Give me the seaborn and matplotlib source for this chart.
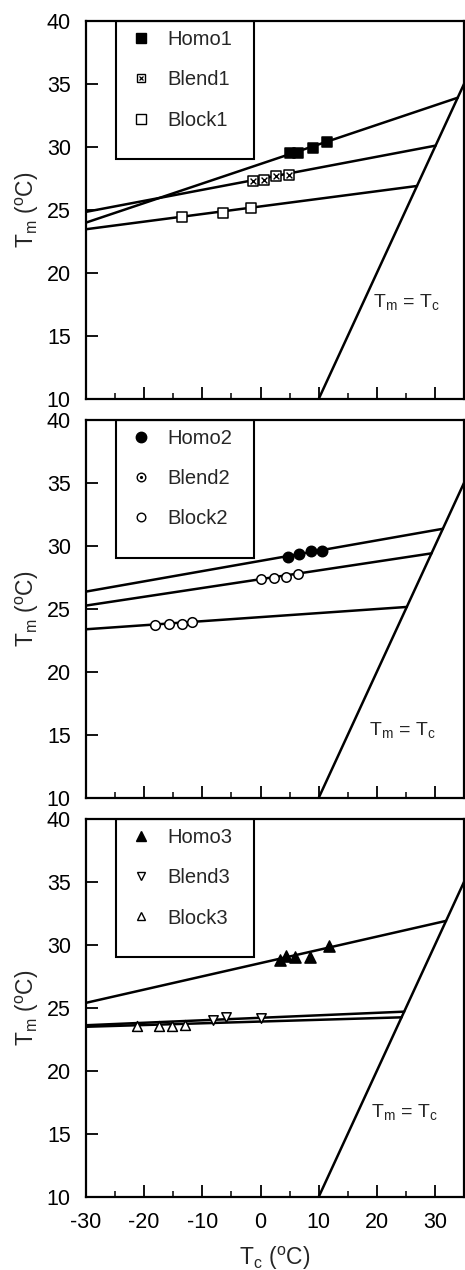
import numpy as np
import matplotlib
matplotlib.use("Agg")
import matplotlib.pyplot as plt
import seaborn as sns
from matplotlib.lines import Line2D
from matplotlib.patches import Rectangle
from matplotlib.ticker import MultipleLocator

sns.set_style("ticks")
plt.rcParams["font.family"] = ["Liberation Sans", "DejaVu Sans"]
plt.rcParams["mathtext.fontset"] = "custom"
plt.rcParams["mathtext.rm"] = "Liberation Sans"
plt.rcParams["mathtext.it"] = "Liberation Sans"
plt.rcParams["mathtext.default"] = "regular"
plt.rcParams["axes.unicode_minus"] = False

# ---- measured crystallisation (Tc) / melting (Tm) temperatures, degC ----
homo1_tc = [5.0, 6.4, 9.0, 11.5]
homo1_tm = [29.5, 29.5, 29.95, 30.4]
blend1_tc = [-1.3, 0.65, 2.7, 4.9]
blend1_tm = [27.3, 27.4, 27.7, 27.8]
block1_tc = [-13.5, -6.5, -1.6]
block1_tm = [24.45, 24.75, 25.15]

homo2_tc = [4.65, 6.6, 8.6, 10.5]
homo2_tm = [29.15, 29.35, 29.6, 29.6]
blend2_tc = [0.15, 2.3, 4.3, 6.4]
blend2_tm = [27.35, 27.45, 27.5, 27.8]
block2_tc = [-18.15, -15.75, -13.5, -11.8]
block2_tm = [23.75, 23.8, 23.8, 23.95]

homo3_tc = [3.4, 4.4, 5.9, 8.5, 11.8]
homo3_tm = [28.8, 29.1, 29.0, 29.0, 29.9]
blend3_tc = [-8.2, -6.0, 0.0]
blend3_tm = [24.0, 24.25, 24.2]
block3_tc = [-21.2, -17.5, -15.3, -13.0]
block3_tm = [23.6, 23.6, 23.6, 23.65]

# ---- Hoffman-Weeks extrapolation: equilibrium Tm0 and slope phi ----
series_names = [["Homo1", "Blend1", "Block1"],
                ["Homo2", "Blend2", "Block2"],
                ["Homo3", "Blend3", "Block3"]]
tm0 = [[33.9, 30.1, 26.9],
       [31.35, 29.4, 25.15],
       [31.9, 24.7, 24.25]]
phi = [[0.155, 0.0874, 0.0603],
       [0.0812, 0.0697, 0.0321],
       [0.105, 0.0197, 0.0138]]

tc_start = -30.0
identity_tc = [10.0, 35.0]

panel_points = [
    [(homo1_tc, homo1_tm), (blend1_tc, blend1_tm), (block1_tc, block1_tm)],
    [(homo2_tc, homo2_tm), (blend2_tc, blend2_tm), (block2_tc, block2_tm)],
    [(homo3_tc, homo3_tm), (blend3_tc, blend3_tm), (block3_tc, block3_tm)],
]

# marker styles: (marker, size, face, overlay marker, overlay size)
styles = [
    [("s", 52, "black", None, 0), ("s", 42, "white", "x", 18), ("s", 52, "white", None, 0)],
    [("o", 56, "black", None, 0), ("o", 46, "white", ".", 7), ("o", 48, "white", None, 0)],
    [("^", 64, "black", None, 0), ("v", 46, "white", None, 0), ("^", 50, "white", None, 0)],
]
legend_ms = [[7.0, 6.0, 6.5], [7.5, 6.2, 6.2], [7.5, 6.2, 6.2]]

label_pos = [(19.4, 17.3), (18.7, 15.0), (19.0, 16.35)]

fig = plt.figure(figsize=(4.65, 12.7), dpi=100)
bottoms = [0.6858, 0.3717, 0.0575]
axes = [fig.add_axes([0.185, b, 0.813, 0.2978]) for b in bottoms]

for i, ax in enumerate(axes):
    # extrapolated lines up to the Tm = Tc line
    for j in range(3):
        t0, p = tm0[i][j], phi[i][j]
        xs = np.array([tc_start, t0])
        ys = t0 + p * (xs - t0)
        sns.lineplot(x=xs, y=ys, color="black", linewidth=1.8, ax=ax,
                     legend=False, zorder=2)
    sns.lineplot(x=identity_tc, y=identity_tc, color="black", linewidth=1.8,
                 ax=ax, legend=False, zorder=2)

    handles = []
    for j in range(3):
        xs, ys = panel_points[i][j]
        mk, s, face, ov, ovs = styles[i][j]
        sns.scatterplot(x=xs, y=ys, marker=mk, s=s, color=face,
                        edgecolor="black", linewidth=1.1, ax=ax,
                        legend=False, zorder=3)
        ms = legend_ms[i][j]
        h = Line2D([], [], linestyle="none", marker=mk, markersize=ms,
                   markerfacecolor=face, markeredgecolor="black",
                   markeredgewidth=1.0)
        if ov is not None:
            sns.scatterplot(x=xs, y=ys, marker=ov, s=ovs, color="black",
                            linewidth=1.0, ax=ax, legend=False, zorder=4)
            h2 = Line2D([], [], linestyle="none", marker=ov,
                        markersize=ms * (0.6 if ov == "x" else 0.45),
                        color="black", markeredgewidth=0.9)
            h = (h, h2)
        handles.append(h)

    ax.legend(handles, series_names[i], loc="upper left",
              bbox_to_anchor=(0.12, 0.975), frameon=False,
              borderaxespad=0, borderpad=0, handlelength=1.0,
              handletextpad=0.8, labelspacing=1.05, fontsize=14.5)
    ax.add_patch(Rectangle((0.078, 0.635), 0.366, 0.365,
                           transform=ax.transAxes, fill=False,
                           edgecolor="black", linewidth=1.5, zorder=5))

    lx, ly = label_pos[i]
    ax.text(lx, ly, r"T$_\mathregular{m}$ = T$_\mathregular{c}$",
            fontsize=14, va="baseline", ha="left")

    ax.set_xlim(-30, 35)
    ax.set_ylim(10, 40)
    ax.xaxis.set_major_locator(MultipleLocator(10))
    ax.xaxis.set_minor_locator(MultipleLocator(5))
    ax.yaxis.set_major_locator(MultipleLocator(5))
    ax.tick_params(which="major", direction="in", length=8.5, width=1.3,
                   labelsize=15.5, pad=11, colors="black")
    ax.tick_params(which="minor", direction="in", length=4.3, width=1.3)
    ax.tick_params(axis="y", which="minor", length=0)
    for sp in ax.spines.values():
        sp.set_visible(True)
        sp.set_linewidth(1.6)
        sp.set_color("black")
    ax.set_ylabel(r"T$_\mathregular{m}$ ($^\mathregular{o}$C)", fontsize=16.5,
                  labelpad=4)
    if i < 2:
        ax.tick_params(axis="x", labelbottom=False)
        ax.set_xlabel("")
    else:
        ax.set_xlabel(r"T$_\mathregular{c}$ ($^\mathregular{o}$C)",
                      fontsize=16.5, labelpad=8)

fig.savefig("out.png", dpi=100)
